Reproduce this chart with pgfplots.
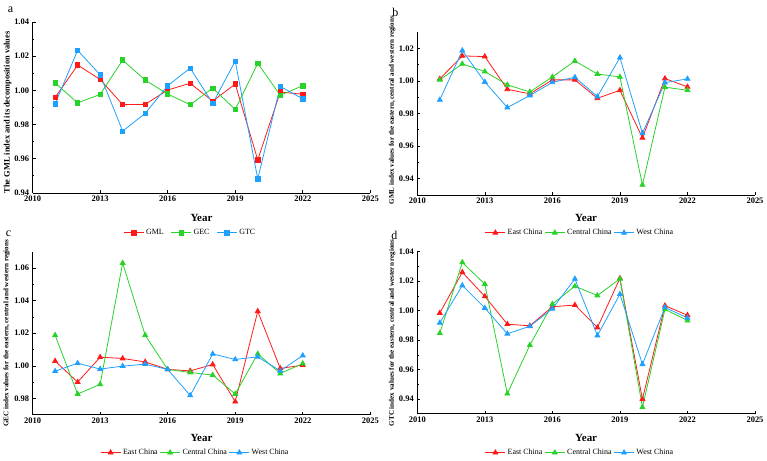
\documentclass[border=0pt]{standalone}
\usepackage{pgfplots}
\usepackage{pgfplotstable}
\usepackage{fontspec}
\setmainfont{Liberation Serif}
\pgfplotsset{compat=1.18}

\definecolor{cRed}{RGB}{255,25,25}
\definecolor{cGreen}{RGB}{40,210,40}
\definecolor{cBlue}{RGB}{30,160,255}

% Panel a: GML index and its decomposition (national)
\pgfplotstableread{
year GML    GEC    GTC
2011 0.9957 1.0043 0.9921
2012 1.0148 0.9927 1.0234
2013 1.0064 0.9976 1.0091
2014 0.9916 1.0177 0.9761
2015 0.9918 1.0060 0.9865
2016 1.0002 0.9978 1.0027
2017 1.0041 0.9916 1.0130
2018 0.9937 1.0013 0.9923
2019 1.0037 0.9888 1.0171
2020 0.9593 1.0158 0.9482
2021 0.9990 0.9971 1.0023
2022 0.9977 1.0027 0.9950
}\tabA

% Panel b: GML by region
\pgfplotstableread{
year East   Central West
2011 1.0012 1.0006 0.9883
2012 1.0153 1.0104 1.0186
2013 1.0149 1.0057 0.9993
2014 0.9948 0.9975 0.9836
2015 0.9920 0.9932 0.9910
2016 1.0006 1.0024 0.9991
2017 1.0006 1.0122 1.0022
2018 0.9893 1.0042 0.9903
2019 0.9942 1.0024 1.0143
2020 0.9650 0.9361 0.9678
2021 1.0014 0.9961 0.9989
2022 0.9963 0.9942 1.0012
}\tabB

% Panel c: GEC by region
\pgfplotstableread{
year East   Central West
2011 1.0029 1.0188 0.9967
2012 0.9900 0.9827 1.0016
2013 1.0053 0.9886 0.9980
2014 1.0045 1.0631 0.9998
2015 1.0024 1.0188 1.0010
2016 0.9978 0.9978 0.9978
2017 0.9969 0.9959 0.9818
2018 1.0008 0.9943 1.0073
2019 0.9780 0.9827 1.0039
2020 1.0335 1.0073 1.0055
2021 0.9984 0.9953 0.9969
2022 1.0004 1.0014 1.0063
}\tabC

% Panel d: GTC by region
\pgfplotstableread{
year East   Central West
2011 0.9984 0.9847 0.9917
2012 1.0261 1.0328 1.0171
2013 1.0097 1.0180 1.0018
2014 0.9908 0.9436 0.9843
2015 0.9897 0.9766 0.9894
2016 1.0027 1.0045 1.0013
2017 1.0038 1.0166 1.0216
2018 0.9885 1.0103 0.9831
2019 1.0220 1.0216 1.0112
2020 0.9398 0.9344 0.9636
2021 1.0034 1.0009 1.0022
2022 0.9969 0.9933 0.9951
}\tabD

\pgfplotsset{
  panel/.style={
    scale only axis,
    width=338bp,
    axis lines=left,
    axis line style={-, line width=0.6pt},
    tick align=inside,
    major tick length=3pt,
    minor tick length=1.8pt,
    tick style={line width=0.6pt, black},
    xmin=2010, xmax=2025,
    xtick={2010,2013,...,2025},
    minor x tick num=1,
    minor y tick num=1,
    /pgf/number format/assume math mode=true,
    /pgf/number format/1000 sep={},
    every tick label/.append style={font=\fontsize{8.5}{10}\selectfont\bfseries},
    yticklabel style={/pgf/number format/.cd, fixed, fixed zerofill, precision=2},
    xlabel={Year},
    every axis x label/.append style={font=\fontsize{11}{13}\selectfont\bfseries},
    every axis y label/.style={at={(axis description cs:-0.074,0.5)}, rotate=90, anchor=center,
      font=\fontsize{7.1}{8}\selectfont\bfseries},
    legend columns=-1,
    legend style={draw=none, fill=none, font=\fontsize{8}{10}\selectfont,
      /tikz/every even column/.append style={column sep=5bp}},
    legend image code/.code={%
      \draw[mark repeat=2,mark phase=2] plot coordinates {(0bp,0bp)(10bp,0bp)(20bp,0bp)};},
    every axis plot/.append style={line width=0.8pt},
  },
  pA/.style={draw=cRed, mark=square*, mark options={fill=cRed, draw=cRed}, mark size=2.2pt},
  pB/.style={draw=cGreen, mark=square*, mark options={fill=cGreen, draw=cGreen}, mark size=2.2pt},
  pC/.style={draw=cBlue, mark=square*, mark options={fill=cBlue, draw=cBlue}, mark size=2.2pt},
  tA/.style={draw=cRed, mark=triangle*, mark options={fill=cRed, draw=cRed}, mark size=2.8pt},
  tB/.style={draw=cGreen, mark=triangle*, mark options={fill=cGreen, draw=cGreen}, mark size=2.8pt},
  tC/.style={draw=cBlue, mark=triangle*, mark options={fill=cBlue, draw=cBlue}, mark size=2.8pt},
}

\begin{document}
\begin{tikzpicture}
\path (0bp,0bp) rectangle (767bp,459bp);

% ---- a ----
\begin{axis}[panel, at={(32bp,266bp)}, anchor=south west, height=171bp,
  ymin=0.94, ymax=1.04, ytick={0.94,0.96,...,1.041},
  xlabel style={at={(axis description cs:0.5,-0.146)}, anchor=center},
  ylabel={The GML index and its decomposition values},
  ylabel style={font=\fontsize{8.4}{10}\selectfont\bfseries, at={(axis description cs:-0.074,0.47)}},
  legend style={at={(axis description cs:0.467,-0.234)}, anchor=center}]
\addplot[pA] table[x=year, y=GML] {\tabA};
\addplot[pB] table[x=year, y=GEC] {\tabA};
\addplot[pC] table[x=year, y=GTC] {\tabA};
\legend{GML, GEC, GTC}
\end{axis}

% ---- b ----
\begin{axis}[panel, at={(417bp,264bp)}, anchor=south west, height=163bp,
  ymin=0.93, ymax=1.03, ytick={0.94,0.96,...,1.021},
  xlabel style={at={(axis description cs:0.5,-0.141)}, anchor=center},
  ylabel={GML index values for the eastern, central and western regions},
  ylabel style={at={(axis description cs:-0.074,0.52)}},
  legend style={at={(axis description cs:0.482,-0.233)}, anchor=center,
    /tikz/every even column/.append style={column sep=0bp}}]
\addplot[tA] table[x=year, y=East] {\tabB};
\addplot[tB] table[x=year, y=Central] {\tabB};
\addplot[tC] table[x=year, y=West] {\tabB};
\legend{East China, Central China, West China}
\end{axis}

% ---- c ----
\begin{axis}[panel, at={(32bp,44bp)}, anchor=south west, height=163bp,
  ymin=0.97, ymax=1.07, ytick={0.98,1.00,...,1.061},
  xlabel style={at={(axis description cs:0.5,-0.141)}, anchor=center},
  ylabel={GEC index values for the eastern, central and western regions},
  ylabel style={at={(axis description cs:-0.077,0.5)}},
  legend style={at={(axis description cs:0.482,-0.233)}, anchor=center,
    /tikz/every even column/.append style={column sep=0bp}}]
\addplot[tA] table[x=year, y=East] {\tabC};
\addplot[tB] table[x=year, y=Central] {\tabC};
\addplot[tC] table[x=year, y=West] {\tabC};
\legend{East China, Central China, West China}
\end{axis}

% ---- d ----
\begin{axis}[panel, at={(417bp,45bp)}, anchor=south west, height=162bp,
  ymin=0.93, ymax=1.04, ytick={0.94,0.96,...,1.041},
  xlabel style={at={(axis description cs:0.5,-0.148)}, anchor=center},
  ylabel={GTC index values for the eastern, central and western regions},
  legend style={at={(axis description cs:0.482,-0.241)}, anchor=center,
    /tikz/every even column/.append style={column sep=0bp}}]
\addplot[tA] table[x=year, y=East] {\tabD};
\addplot[tB] table[x=year, y=Central] {\tabD};
\addplot[tC] table[x=year, y=West] {\tabD};
\legend{East China, Central China, West China}
\end{axis}

% panel letters
\node[font=\fontsize{12}{14}\selectfont] at (10bp,449bp) {a};
\node[font=\fontsize{12}{14}\selectfont] at (395bp,447bp) {b};
\node[font=\fontsize{12}{14}\selectfont] at (8bp,225bp) {c};
\node[font=\fontsize{12}{14}\selectfont] at (394bp,223bp) {d};
\end{tikzpicture}
\end{document}
